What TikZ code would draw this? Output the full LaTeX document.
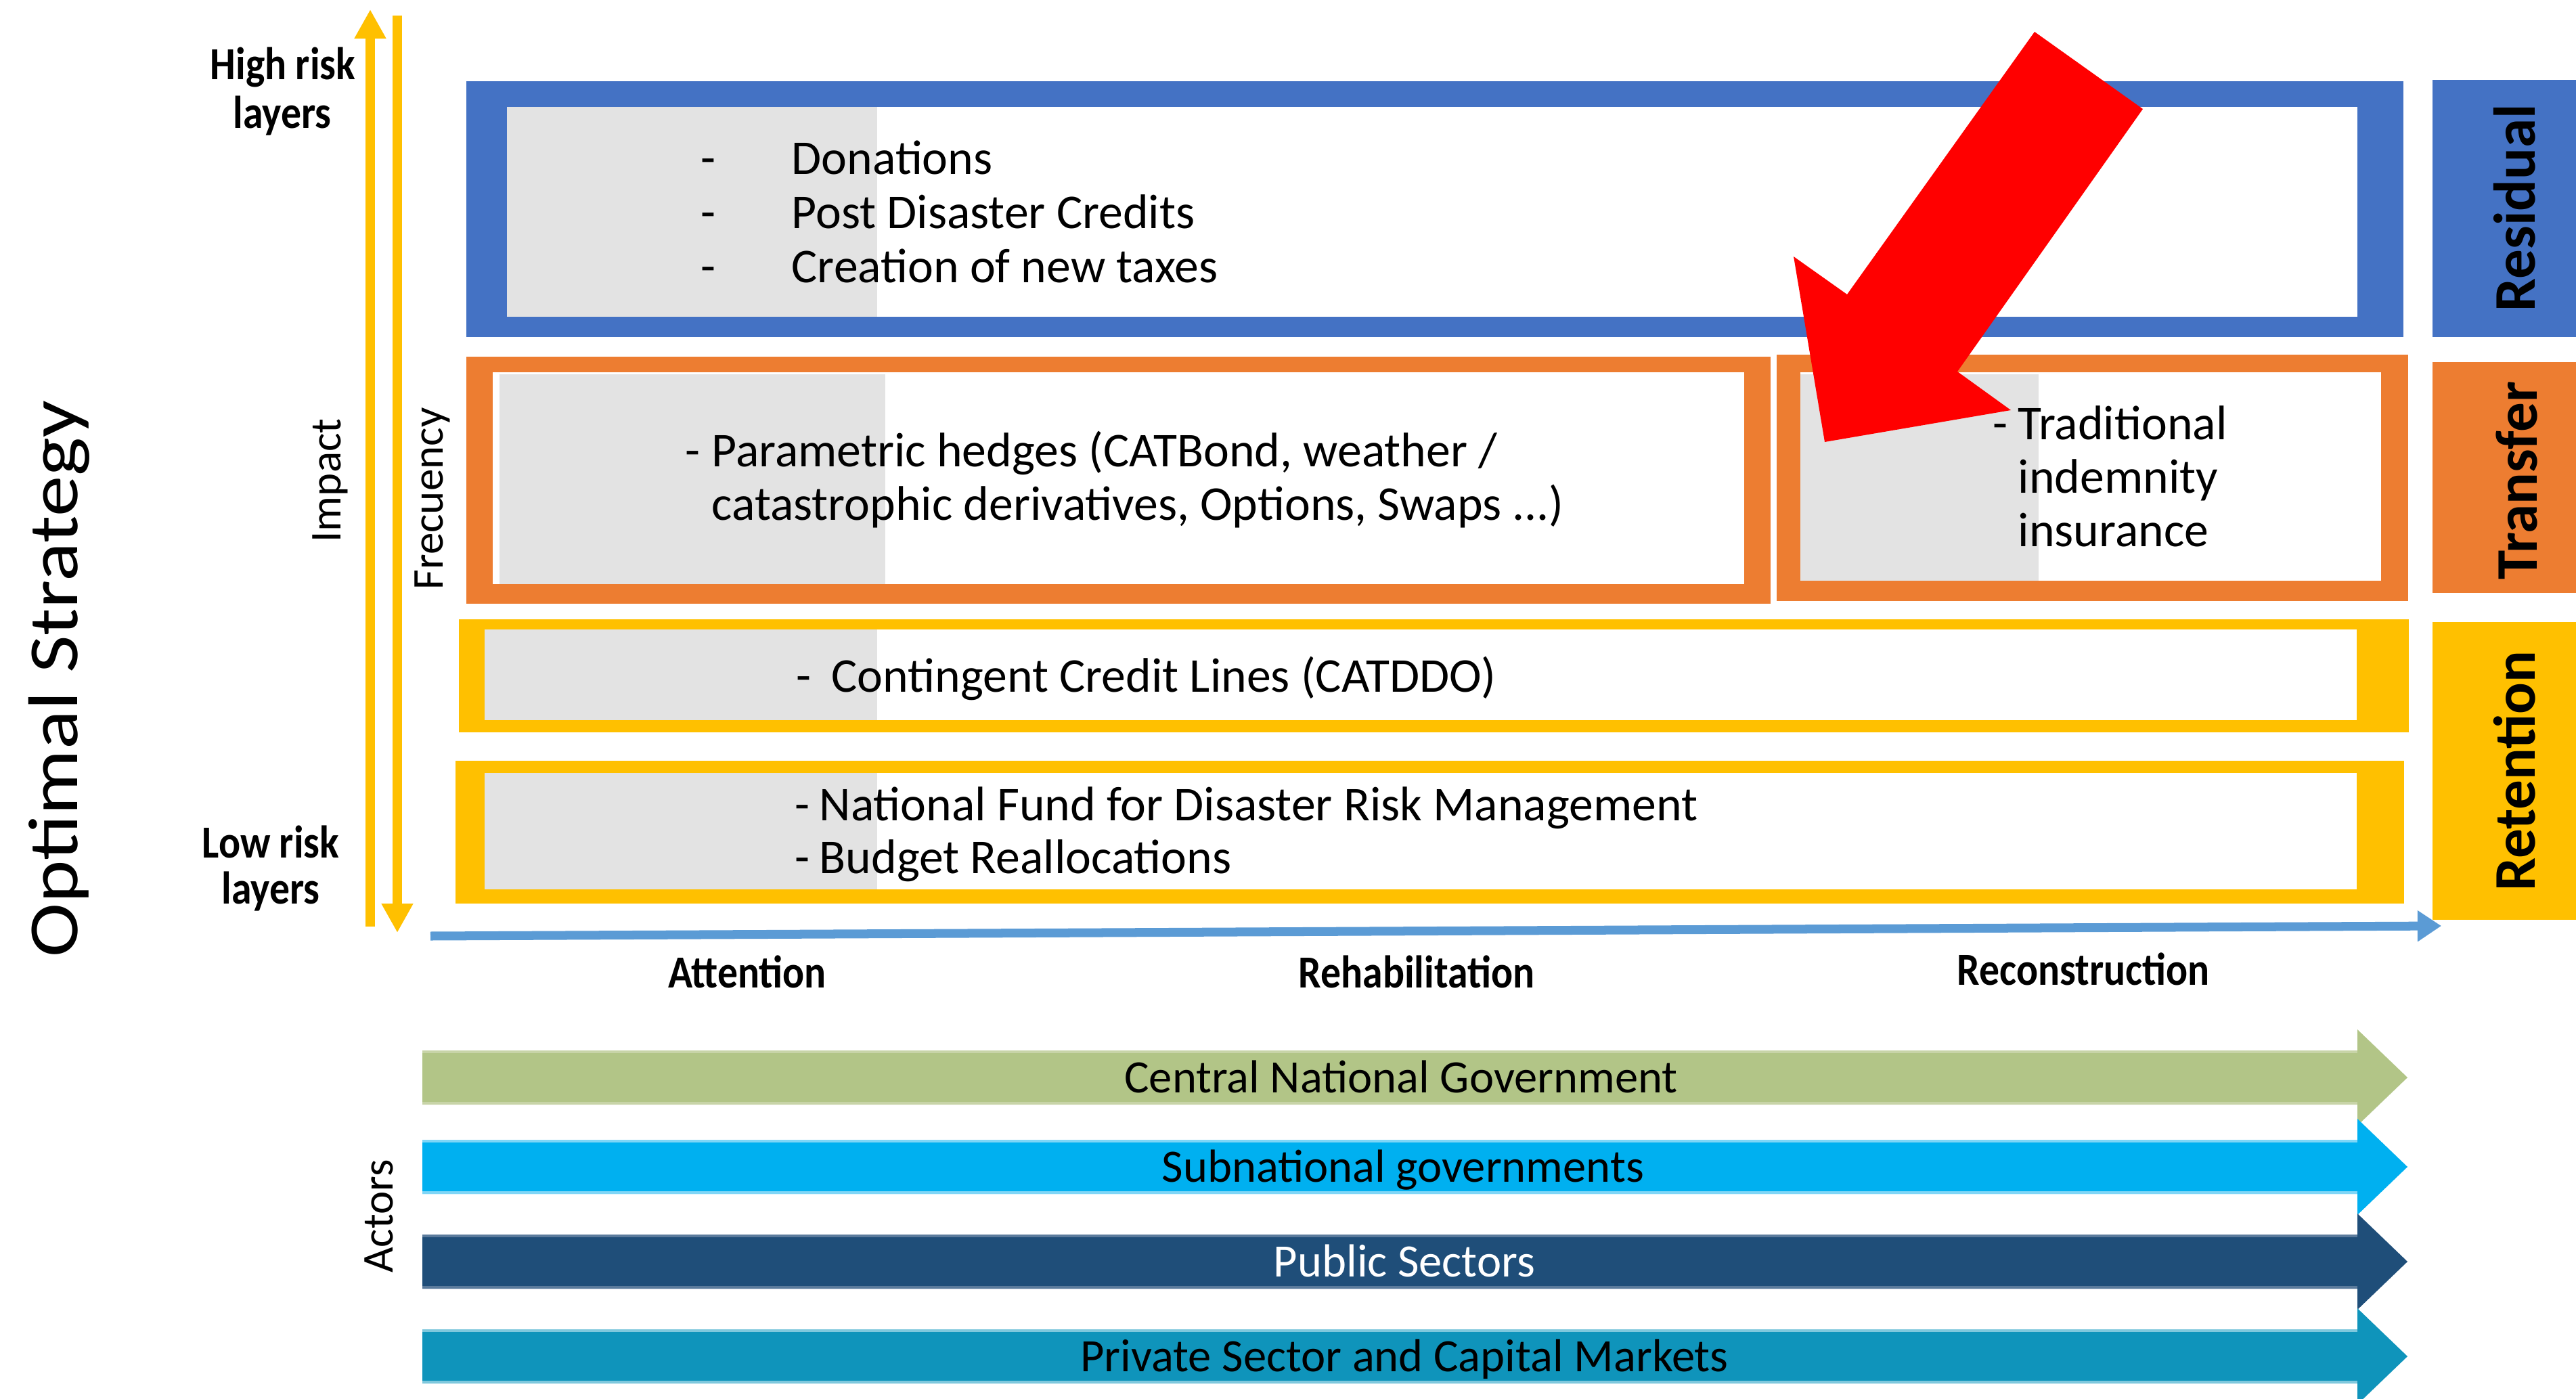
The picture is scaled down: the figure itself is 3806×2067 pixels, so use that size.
\documentclass[tikz,border=0pt]{standalone}
\usepackage{fontspec}
\setmainfont{Carlito}
\newfontfamily\carlitoCond[FakeStretch=0.88]{Carlito}
\newfontfamily\carlitoWide[FakeStretch=1.16]{Carlito}
\usetikzlibrary{arrows.meta}
\definecolor{cblue}{HTML}{4472C4}
\definecolor{corange}{HTML}{ED7D31}
\definecolor{cyellow}{HTML}{FFC000}
\definecolor{cgray}{HTML}{E3E3E3}
\definecolor{cline}{HTML}{5B9BD5}
\definecolor{cgreen}{HTML}{B2C587}
\definecolor{cgreenL}{HTML}{C8D4A8}
\definecolor{ccyan}{HTML}{00B0F0}
\definecolor{ccyanL}{HTML}{7FD6F7}
\definecolor{cdark}{HTML}{1F4E79}
\definecolor{cdarkL}{HTML}{5B7B9C}
\definecolor{cteal}{HTML}{0F94BB}
\definecolor{ctealL}{HTML}{7FC8DD}
\newcommand\boxfnt{\fontsize{20.4pt}{22.8pt}\selectfont}
\newcommand\phasefnt{\carlitoCond\bfseries\fontsize{19.3pt}{21pt}\selectfont}
\newcommand\bandfnt{\fontsize{19.5pt}{22pt}\selectfont}
\newcommand\sidefnt{\bfseries\fontsize{24.8pt}{27pt}\selectfont}
\newcommand\axisfnt{\fontsize{18.5pt}{21pt}\selectfont}
\newcommand\optfnt{\carlitoWide\fontsize{29.6pt}{32pt}\selectfont}
\tikzset{
  boxtxt/.style={font=\boxfnt, anchor=base west, inner sep=0pt},
  phase/.style={font=\phasefnt, anchor=base, inner sep=0pt},
  bandtxt/.style={font=\bandfnt, anchor=base, inner sep=0pt},
  sidetxt/.style={font=\sidefnt, anchor=base, inner sep=0pt, rotate=90},
  axistxt/.style={font=\axisfnt, anchor=base, inner sep=0pt, rotate=90},
  yarrow/.style={draw=cyellow, line width=4pt, -{Triangle[width=12.5pt,length=12.2pt]}},
}
\begin{document}
\begin{tikzpicture}[x=0.01cm, y=-0.01cm]
\fill[white] (0,0) rectangle (3806,2067);
\useasboundingbox (0,0) rectangle (3806,2067);

% ---- Residual row
\fill[cblue] (689,120) rectangle (3551,498);
\fill[white] (749,158) rectangle (3483,468);
\fill[cgray] (749,158) rectangle (1296,468);
% ---- Transfer row
\fill[corange] (689,527) rectangle (2616,892);
\fill[white] (728,550) rectangle (2577,863);
\fill[cgray] (738,553) rectangle (1308,863);
\fill[corange] (2625,524) rectangle (3558,888);
\fill[white] (2660,550) rectangle (3518,858);
\fill[cgray] (2660,553) rectangle (3012,858);
% ---- Retention rows
\fill[cyellow] (678,915) rectangle (3559,1082);
\fill[white] (716,930) rectangle (3482,1064);
\fill[cgray] (716,930) rectangle (1296,1064);
\fill[cyellow] (673,1124) rectangle (3552,1335);
\fill[white] (716,1142) rectangle (3482,1314);
\fill[cgray] (716,1142) rectangle (1296,1314);

% ---- side labels
\fill[cblue] (3594,118) rectangle (3806,498);
\fill[corange] (3594,535) rectangle (3806,876);
\fill[cyellow] (3594,919) rectangle (3806,1359);
\node[sidetxt] (res) at (3745,307) {Residual};
\node[sidetxt] (tra) at (3748,710) {Transfer};
\node[sidetxt] (ret) at (3745,1139) {Retention};

% ---- texts in boxes
\node[boxtxt] (d1) at (1035,258) {-};
\node[boxtxt] (t1) at (1169,258) {Donations};
\node[boxtxt] (d2) at (1035,338) {-};
\node[boxtxt] (t2) at (1169,338) {Post Disaster Credits};
\node[boxtxt] (d3) at (1035,418) {-};
\node[boxtxt] (t3) at (1169,418) {Creation of new taxes};

\node[boxtxt] (pd) at (1012,689) {-};
\node[boxtxt] (p1) at (1051,689) {Parametric hedges (CATBond, weather /};
\node[boxtxt] (p2) at (1051,768) {catastrophic derivatives, Options, Swaps ...)};

\node[boxtxt] (cd) at (1176,1022) {-};
\node[boxtxt] (c1) at (1228,1022) {Contingent Credit Lines (CATDDO)};

\node[boxtxt] (nd1) at (1174,1212) {-};
\node[boxtxt] (n1) at (1210,1212) {National Fund for Disaster Risk Management};
\node[boxtxt] (nd2) at (1174,1290) {-};
\node[boxtxt] (n2) at (1210,1290) {Budget Reallocations};

% ---- red arrow
\fill[red] (2696,653) -- (2650,379) -- (2729,435) -- (3006,47) -- (3166,161) -- (2892,549) -- (2971,606) -- cycle;

\node[boxtxt] (trd) at (2944,649) {-};
\node[boxtxt] (tr1) at (2981,649) {Traditional};
\node[boxtxt] (tr2) at (2981,728) {indemnity};
\node[boxtxt] (tr3) at (2981,807) {insurance};

% ---- vertical axes
\coordinate (impB) at (547,1369);
\coordinate (impT) at (547,14);
\coordinate (freT) at (587,23);
\coordinate (freB) at (587,1378);
\draw[yarrow] (impB) -- (impT);
\draw[yarrow] (freT) -- (freB);
\node[axistxt] (imp) at (503,710) {Impact};
\node[axistxt] (fre) at (654,737) {Frecuency};

\node[phase] (hr1) at (418,118) {High risk};
\node[phase] (hr2) at (417,190) {layers};
\node[phase] (lr1) at (400,1267) {Low risk};
\node[phase] (lr2) at (400,1335) {layers};

\node[font=\optfnt, anchor=base, inner sep=0pt, rotate=90] (opt) at (114,1003) {Optimal Strategy};

% ---- timeline
\coordinate (tlA) at (636,1383);
\coordinate (tlB) at (3607,1368);
\draw[cline, line width=3.7pt, -{Triangle[width=12.5pt,length=10pt]}] (tlA) -- (tlB);
\node[phase] (ph1) at (1104,1459) {Attention};
\node[phase] (ph2) at (2093,1459) {Rehabilitation};
\node[phase] (ph3) at (3078,1455) {Reconstruction};

% ---- actors
\foreach \c/\col/\lcol in {1592/cgreen/cgreenL, 1724/ccyan/ccyanL, 1864/cdark/cdarkL, 2004/cteal/ctealL}{
  \fill[\col] (624,\c-40) -- (3483,\c-40) -- (3483,\c-71) -- (3557,\c) -- (3483,\c+71) -- (3483,\c+40) -- (624,\c+40) -- cycle;
  \fill[\lcol] (624,\c-40) rectangle (3483,\c-36);
  \fill[\lcol] (624,\c+36) rectangle (3483,\c+40);
}
\node[bandtxt] (a1) at (2070,1614) {Central National Government};
\node[bandtxt] (a2) at (2073,1746) {Subnational governments};
\node[bandtxt, text=white] (a3) at (2075,1886) {Public Sectors};
\node[bandtxt] (a4) at (2075,2026) {Private Sector and Capital Markets};
\node[axistxt] (act) at (580,1797) {Actors};
\end{tikzpicture}
\end{document}
